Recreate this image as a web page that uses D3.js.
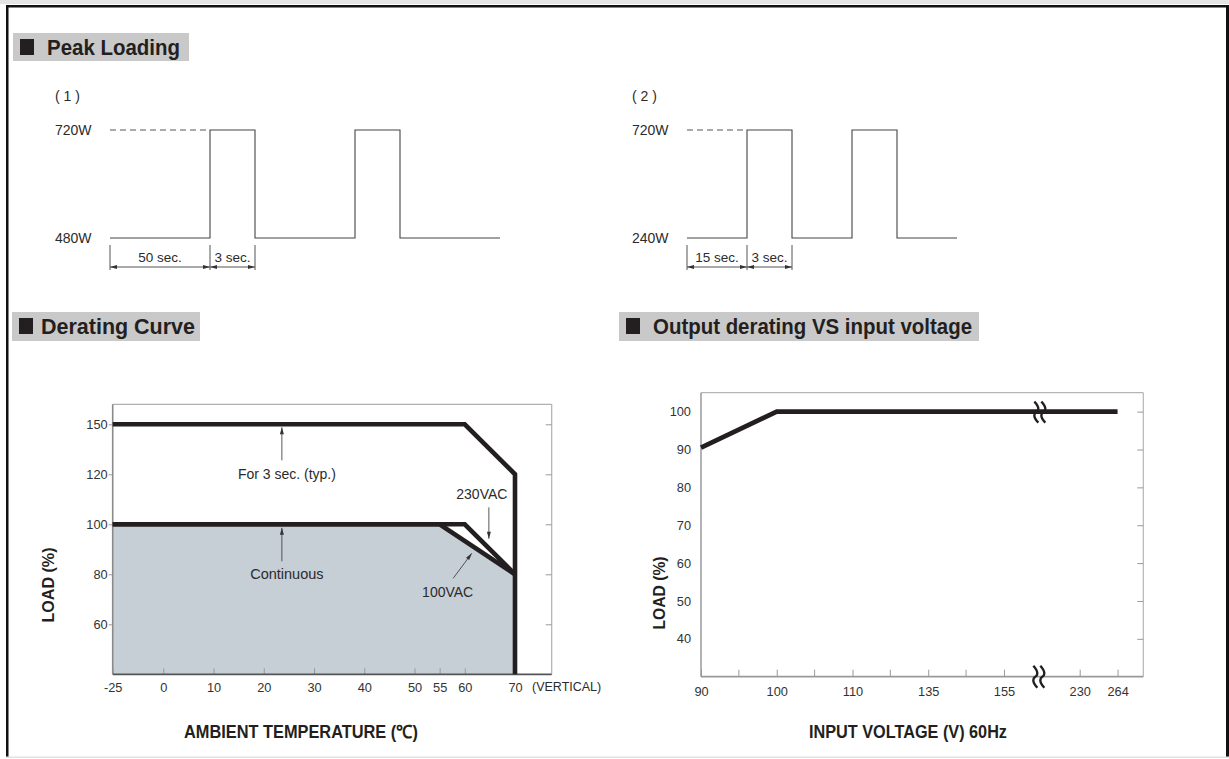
<!DOCTYPE html>
<meta charset="utf-8">
<script src="https://d3js.org/d3.v7.min.js"></script>
<style>
  body { margin: 0; background: #fff; }
  text { font-family: "Liberation Sans", Arial, sans-serif; fill: #2b2b2b; }
  .head { font-family: "Liberation Sans Narrow", "Liberation Sans", sans-serif; font-weight: bold; fill: #231f20; }
  .tick line { stroke: #999; }
  .tick text { font-size: 12.8px; fill: #333; }
</style>
<div id="chart"></div>
<script>

// ---- data ----

// peak loading (1)
var peak1Times = [0, 50, 53, 103, 106, 156];
var peak1Levels = [480, 720, 480, 720, 480];
var peak1Labels = ["480W", "720W"];
var peak1Spans = ["50 sec.", "3 sec."];

// peak loading (2)
var peak2Times = [0, 15, 18, 33, 36, 51];
var peak2Levels = [240, 720, 240, 720, 240];
var peak2Labels = ["240W", "720W"];
var peak2Spans = ["15 sec.", "3 sec."];

// derating curve
var tempTicks = [-25, 0, 10, 20, 30, 40, 50, 55, 60, 70];
var loadTicks = [60, 80, 100, 120, 150];
var peakCurve = [[-25, 150], [60, 150], [70, 120], [70, 40]];
var cont230 = [[-25, 100], [60, 100], [70, 80]];
var cont100 = [[-25, 100], [55, 100], [70, 80]];

// output derating vs input voltage
var voltTicks = [90, 100, 110, 135, 155, 230, 264];
var voltSlots = [0, 2, 4, 6, 8, 10, 11];
var voltMinor = [1, 3, 5, 7];
var voltBreak = 9;
var outLoadTicks = [40, 50, 60, 70, 80, 90, 100];
var outCurve = [[90, 90.5], [100, 100], [264, 100]];

// ---- page ----
var W = 1229, H = 759;
var svg = d3.select("#chart").append("svg")
    .attr("width", W)
    .attr("height", H);

svg.append("rect").attr("width", W).attr("height", H).attr("fill", "#fff");

// outer frame
svg.append("rect").attr("x", 0).attr("y", 0).attr("width", W).attr("height", 4).attr("fill", "#e4e4e4");
svg.append("rect").attr("x", 6).attr("y", 5).attr("width", 1222).attr("height", 2.5).attr("fill", "#111");
svg.append("rect").attr("x", 6).attr("y", 5).attr("width", 2.5).attr("height", 753).attr("fill", "#111");
svg.append("rect").attr("x", 1226).attr("y", 5).attr("width", 3).attr("height", 753).attr("fill", "#111");
svg.append("rect").attr("x", 6).attr("y", 756.5).attr("width", 1223).attr("height", 1.5).attr("fill", "#e2e2e2");

// section headers
function header(x, y, w, h, label, textX, textLen) {
  svg.append("rect").attr("x", x).attr("y", y).attr("width", w).attr("height", h).attr("fill", "#c9c9c9");
  svg.append("rect").attr("x", x + 7).attr("y", y + 6).attr("width", 14).attr("height", 16).attr("fill", "#231f20");
  svg.append("text").attr("class", "head")
      .attr("x", textX).attr("y", y + 22)
      .style("font-size", "22.5px")
      .attr("textLength", textLen).attr("lengthAdjust", "spacingAndGlyphs")
      .text(label);
}
header(13, 33, 176, 28, "Peak Loading", 47, 133);
header(12, 312, 188, 29, "Derating Curve", 41, 154);
header(619, 312, 360, 29, "Output derating VS input voltage", 653, 319);

// ---- peak loading waveforms ----
function arrowHead(g, tipX, tipY, dir) {
  g.append("path")
    .attr("d", "M" + tipX + "," + tipY + "l" + (-dir * 7) + ",-2l0,4z")
    .attr("fill", "#333");
}

function peakPanel(tag, tagX, x0, lowW, highW, times, levels, labels, spans) {
  var low = d3.min(levels), high = d3.max(levels);
  var range = [x0];
  for (var i = 1; i < times.length; i++) {
    range.push(range[i - 1] + (levels[i - 1] === high ? highW : lowW));
  }
  var x = d3.scaleLinear().domain(times).range(range);
  var y = d3.scaleLinear().domain([low, high]).range([238, 130]);
  var g = svg.append("g");

  var pts = times.map(function(t, i) { return [t, levels[Math.min(i, levels.length - 1)]]; });
  var line = d3.line()
      .x(function(d) { return x(d[0]); })
      .y(function(d) { return y(d[1]); })
      .curve(d3.curveStepAfter);

  g.append("path").attr("d", line(pts))
      .attr("fill", "none").attr("stroke", "#444").attr("stroke-width", 1.1);

  // dashed reference to peak level
  g.append("line")
      .attr("x1", x(times[0])).attr("x2", x(times[1]))
      .attr("y1", y(high)).attr("y2", y(high))
      .attr("stroke", "#555").attr("stroke-width", 1).attr("stroke-dasharray", "6,4");

  g.append("text").attr("x", tagX).attr("y", 101).style("font-size", "14px").text("( " + tag + " )");
  g.append("text").attr("x", tagX).attr("y", y(high) + 5).style("font-size", "14px").text(labels[1]);
  g.append("text").attr("x", tagX).attr("y", y(low) + 5).style("font-size", "14px").text(labels[0]);

  // dimension marks
  [0, 1, 2].forEach(function(i) {
    g.append("line")
        .attr("x1", x(times[i])).attr("x2", x(times[i]))
        .attr("y1", 245).attr("y2", 270)
        .attr("stroke", "#555").attr("stroke-width", 1);
  });
  g.append("line")
      .attr("x1", x(times[0])).attr("x2", x(times[2]))
      .attr("y1", 267).attr("y2", 267)
      .attr("stroke", "#555").attr("stroke-width", 1);
  [0, 1].forEach(function(i) {
    var a = x(times[i]), b = x(times[i + 1]);
    arrowHead(g, a, 267, -1);
    arrowHead(g, b, 267, 1);
    g.append("text")
        .attr("x", (a + b) / 2).attr("y", 261.5)
        .attr("text-anchor", "middle")
        .style("font-size", "13.5px")
        .text(spans[i]);
  });
}

peakPanel("1", 55, 110, 100, 45, peak1Times, peak1Levels, peak1Labels, peak1Spans);
peakPanel("2", 632, 687, 60, 45, peak2Times, peak2Levels, peak2Labels, peak2Spans);

// ---- derating curve ----
var xT = d3.scaleLinear().domain([-25, 0, 70]).range([112.7, 163.3, 515]);
var yL = d3.scaleLinear().domain([40, 60, 80, 100, 120, 150]).range([674.3, 624.3, 574.3, 524.3, 474.3, 424.3]);
var dLeft = xT(-25), dRight = 551.7, dTop = yL(150) - 20, dBottom = yL(40);
var dg = svg.append("g");

var fillArea = d3.area()
    .x(function(d) { return xT(d[0]); })
    .y0(dBottom)
    .y1(function(d) { return yL(d[1]); });
dg.append("path").attr("d", fillArea(cont100))
    .attr("fill", "#c6ced6");

// frame
dg.append("line").attr("x1", dLeft).attr("x2", dRight).attr("y1", dTop).attr("y2", dTop).attr("stroke", "#b0b0b0").attr("stroke-width", 1.2);
dg.append("line").attr("x1", dRight).attr("x2", dRight).attr("y1", dTop).attr("y2", dBottom).attr("stroke", "#b0b0b0").attr("stroke-width", 1.2);
dg.append("line").attr("x1", dLeft).attr("x2", dLeft).attr("y1", dTop).attr("y2", dBottom).attr("stroke", "#8a8a8a").attr("stroke-width", 1.6);

// axes
var dxAxis = dg.append("g").attr("transform", "translate(0," + dBottom + ")")
    .call(d3.axisBottom(xT).tickValues(tempTicks).tickSize(-6).tickPadding(9).tickFormat(function(d) { return String(d); }));
dxAxis.select(".domain").remove();
dxAxis.selectAll(".tick line").attr("stroke", "#777");

var dyAxis = dg.append("g").attr("transform", "translate(" + dLeft + ",0)")
    .call(d3.axisLeft(yL).tickValues(loadTicks).tickSize(4).tickPadding(1));
dyAxis.select(".domain").remove();

var dyRight = dg.append("g").attr("transform", "translate(" + dRight + ",0)")
    .call(d3.axisRight(yL).tickValues(loadTicks).tickSize(-6).tickFormat(""));
dyRight.select(".domain").remove();

dg.append("line").attr("x1", dLeft).attr("x2", dRight).attr("y1", dBottom).attr("y2", dBottom).attr("stroke", "#555").attr("stroke-width", 1.8);

dg.append("text").attr("x", 532).attr("y", dBottom + 17).style("font-size", "12.5px").attr("fill", "#333").text("(VERTICAL)");

// curves
var dLine = d3.line()
    .x(function(d) { return xT(d[0]); })
    .y(function(d) { return yL(d[1]); });
[peakCurve, cont230, cont100].forEach(function(c) {
  dg.append("path").attr("d", dLine(c))
      .attr("fill", "none").attr("stroke", "#231f20")
      .attr("stroke-width", 4.6).attr("stroke-linejoin", "miter");
});

// annotations
function thinArrow(g, x1, y1, x2, y2) {
  g.append("line").attr("x1", x1).attr("y1", y1).attr("x2", x2).attr("y2", y2)
      .attr("stroke", "#444").attr("stroke-width", 0.9);
  var ang = Math.atan2(y2 - y1, x2 - x1) * 180 / Math.PI;
  g.append("path").attr("d", "M0,0l-7,-2l0,4z")
      .attr("transform", "translate(" + x2 + "," + y2 + ") rotate(" + ang + ")")
      .attr("fill", "#333");
}
thinArrow(dg, xT(23.6), yL(128.4), xT(23.6), yL(148.2));
dg.append("text").attr("x", xT(24.6)).attr("y", yL(120) + 5).attr("text-anchor", "middle")
    .style("font-size", "14px").text("For 3 sec. (typ.)");
thinArrow(dg, xT(23.6), yL(85.2), xT(23.6), yL(98.6));
dg.append("text").attr("x", xT(24.6)).attr("y", yL(80) + 5).attr("text-anchor", "middle")
    .style("font-size", "14.5px").text("Continuous");
dg.append("text").attr("x", xT(63.4)).attr("y", yL(112) + 5).attr("text-anchor", "middle")
    .style("font-size", "14px").text("230VAC");
thinArrow(dg, xT(64.8), yL(106.8), xT(64.8), yL(94.2));
dg.append("text").attr("x", xT(56.6)).attr("y", yL(72.8) + 5).attr("text-anchor", "middle")
    .style("font-size", "14px").text("100VAC");
thinArrow(dg, xT(57.7), yL(78.4), xT(61.4), yL(88.4));

// axis titles
dg.append("text").attr("class", "head")
    .attr("transform", "translate(53.5,585) rotate(-90)")
    .attr("text-anchor", "middle")
    .style("font-size", "16px")
    .attr("textLength", 75).attr("lengthAdjust", "spacingAndGlyphs")
    .text("LOAD (%)");
dg.append("text").attr("class", "head")
    .attr("x", 184).attr("y", 738)
    .style("font-size", "18px")
    .attr("textLength", 234).attr("lengthAdjust", "spacingAndGlyphs")
    .text("AMBIENT TEMPERATURE (℃)");

// ---- output derating vs input voltage ----
var slot = d3.scaleLinear().domain([0, 1]).range([701, 738.87]);
var xV = d3.scaleLinear().domain(voltTicks).range(voltSlots.map(slot));
var yO = d3.scaleLinear().domain([30, 105]).range([676.7, 392.7]);
var oLeft = xV(90), oRight = 1143.3, oTop = yO(105), oBottom = yO(30);
var og = svg.append("g");

og.append("line").attr("x1", oLeft).attr("x2", oRight).attr("y1", oTop).attr("y2", oTop).attr("stroke", "#b5b5b5").attr("stroke-width", 1.2);
og.append("line").attr("x1", oRight).attr("x2", oRight).attr("y1", oTop).attr("y2", oBottom).attr("stroke", "#b5b5b5").attr("stroke-width", 1.2);
og.append("line").attr("x1", oLeft).attr("x2", oLeft).attr("y1", oTop).attr("y2", oBottom).attr("stroke", "#a0a0a0").attr("stroke-width", 1.6);

var oxAxis = og.append("g").attr("transform", "translate(0," + oBottom + ")")
    .call(d3.axisBottom(xV).tickValues(voltTicks).tickSize(-7).tickPadding(10).tickFormat(function(d) { return String(d); }));
oxAxis.select(".domain").remove();
og.selectAll(".minor").data(voltMinor).enter().append("line")
    .attr("x1", function(d) { return slot(d); }).attr("x2", function(d) { return slot(d); })
    .attr("y1", oBottom - 7).attr("y2", oBottom)
    .attr("stroke", "#999");

var oyAxis = og.append("g").attr("transform", "translate(" + oLeft + ",0)")
    .call(d3.axisLeft(yO).tickValues(outLoadTicks).tickSize(0).tickPadding(10));
oyAxis.select(".domain").remove();
var oyRight = og.append("g").attr("transform", "translate(" + oRight + ",0)")
    .call(d3.axisRight(yO).tickValues(outLoadTicks).tickSize(-6).tickFormat(""));
oyRight.select(".domain").remove();

og.append("line").attr("x1", oLeft).attr("x2", oRight).attr("y1", oBottom).attr("y2", oBottom).attr("stroke", "#999").attr("stroke-width", 1.8);

var oLine = d3.line()
    .x(function(d) { return xV(d[0]); })
    .y(function(d) { return yO(d[1]); });
og.append("path").attr("d", oLine(outCurve))
    .attr("fill", "none").attr("stroke", "#231f20").attr("stroke-width", 4.7);

// axis break marks
function breakMark(cx, y0, y1) {
  [-3.5, 3.5].forEach(function(off) {
    var x = cx + off, h = y1 - y0;
    og.append("path")
        .attr("d", "M" + (x - 2) + "," + y0 +
                   "C" + (x + 4) + "," + (y0 + h * 0.3) + " " + (x + 2) + "," + (y0 + h * 0.45) + " " + x + "," + (y0 + h * 0.5) +
                   "C" + (x - 2) + "," + (y0 + h * 0.55) + " " + (x - 4) + "," + (y0 + h * 0.7) + " " + (x + 2) + "," + y1)
        .attr("fill", "none").attr("stroke", "#231f20").attr("stroke-width", 2.4);
  });
}
breakMark(slot(voltBreak) - 2, yO(100) - 10, yO(100) + 11);
breakMark(slot(voltBreak) - 3, oBottom - 11, oBottom + 11);

og.append("text").attr("class", "head")
    .attr("transform", "translate(665,593) rotate(-90)")
    .attr("text-anchor", "middle")
    .style("font-size", "16px")
    .attr("textLength", 73).attr("lengthAdjust", "spacingAndGlyphs")
    .text("LOAD (%)");
og.append("text").attr("class", "head")
    .attr("x", 809).attr("y", 738)
    .style("font-size", "18px")
    .attr("textLength", 198).attr("lengthAdjust", "spacingAndGlyphs")
    .text("INPUT VOLTAGE (V) 60Hz");

</script>
